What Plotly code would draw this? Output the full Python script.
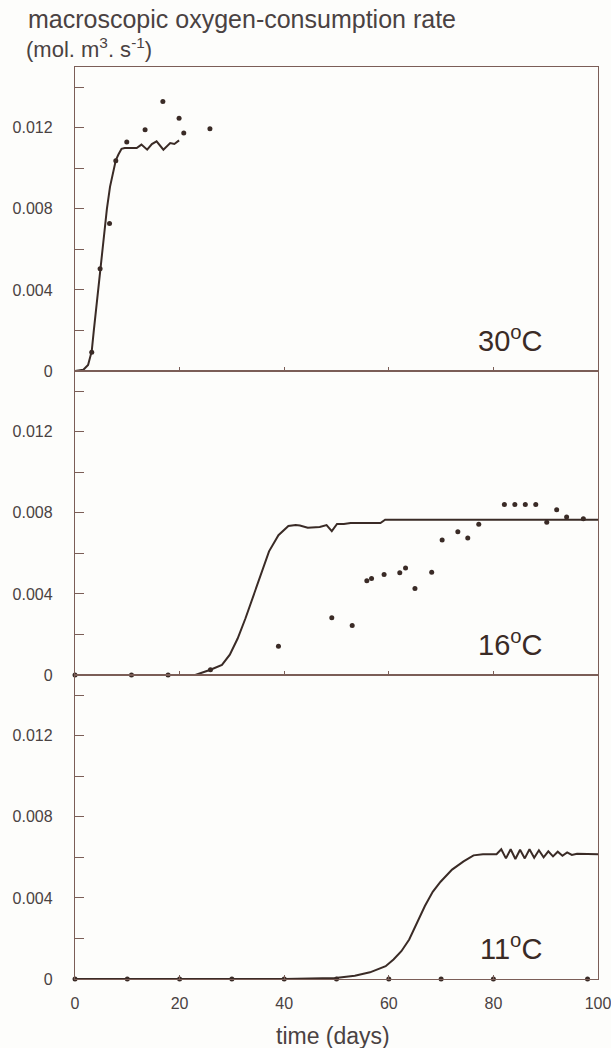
import plotly.graph_objects as go

# ---------------- data ----------------
# 30 °C panel
t30_model = [0, 1.0, 1.6, 2.5, 3.2, 3.6, 4.1, 4.6, 5.1, 5.6, 6.1, 6.7, 7.3, 7.8, 8.3, 8.9,
             9.5, 10.5, 11.8, 12.7, 13.8, 14.7, 15.6, 16.9, 18.2, 19.0, 19.9]
r30_model = [0, 0.00002, 0.00006, 0.0003, 0.00098, 0.0020, 0.00325, 0.0045, 0.0057, 0.0069,
             0.0080, 0.0091, 0.0099, 0.0104, 0.01068, 0.01096, 0.0110, 0.0110, 0.0110,
             0.01117, 0.01092, 0.0112, 0.01133, 0.01092, 0.01125, 0.0112, 0.01138]
t30_obs = [3.2, 4.8, 6.6, 7.8, 9.9, 13.4, 16.8, 19.9, 20.8, 25.8]
r30_obs = [0.00093, 0.00504, 0.00728, 0.01038, 0.0113, 0.0119, 0.0133, 0.01247, 0.01174, 0.01195]

# 16 °C panel
t16_model = [0, 10, 20, 23, 25.9, 28.1, 29.6, 31.1, 32.6, 34.1, 35.6, 37.1, 38.9, 40.8, 42.2,
             43.0, 44.5, 46.8, 48.1, 49.1, 50.1, 51.4, 52.7, 58.4, 59.3, 68, 77.7, 100]
r16_model = [0, 0, 0, 0, 0.00026, 0.0005, 0.0010, 0.0018, 0.0028, 0.0039, 0.0051, 0.0061,
             0.0069, 0.00735, 0.0074, 0.00738, 0.00727, 0.0073, 0.0074, 0.0071, 0.00745,
             0.00745, 0.0075, 0.0075, 0.00766, 0.00766, 0.00766, 0.00766]
t16_obs = [0, 10.8, 17.8, 25.9, 38.9, 49.1, 53.0, 55.8, 56.7, 59.1, 62.1, 63.2, 65.0, 68.2,
           70.2, 73.2, 75.1, 77.2, 82.1, 84.1, 86.1, 88.1, 90.2, 92.1, 94.0, 97.2]
r16_obs = [0, 0, 0, 0.00026, 0.00142, 0.00283, 0.00244, 0.00465, 0.00476, 0.00496, 0.00504,
           0.00528, 0.00427, 0.00507, 0.00666, 0.00707, 0.00676, 0.00744, 0.00841, 0.00841,
           0.00841, 0.00841, 0.00754, 0.00815, 0.00779, 0.00771]

# 11 °C panel
t11_model = [0, 10, 20, 30, 40, 49.8, 53.5, 56.4, 59.4, 60.9, 62.4, 63.9, 65.4, 66.9, 68.4,
             69.9, 72.1, 74.3, 76.2, 78.0, 80.6, 81.5, 82.4, 83.3, 84.2, 85.1, 86.0, 86.9,
             87.8, 88.7, 89.6, 90.5, 91.4, 92.3, 93.2, 94.1, 95.0, 96.0, 100]
r11_model = [0, 0, 0, 0, 0, 0.00005, 0.00016, 0.00033, 0.00063, 0.00096, 0.00137, 0.00195,
             0.0028, 0.0036, 0.0043, 0.0048, 0.0054, 0.0058, 0.0061, 0.00615, 0.00616,
             0.00640, 0.00595, 0.00640, 0.00592, 0.00638, 0.00595, 0.00640, 0.00598,
             0.00635, 0.00600, 0.00630, 0.00605, 0.00628, 0.00608, 0.00625, 0.00612,
             0.00618, 0.00616]
t11_obs = [0, 10, 20, 30, 40, 50, 60, 70, 80, 98]
r11_obs = [0, 0, 0, 0, 0, 0, 0, 0, 0, 0]

temps = ["30", "16", "11"]
y_tickvals = [0, 0.004, 0.008, 0.012]
y_ticktext = ["0", "0.004", "0.008", "0.012"]
x_tickvals = [0, 20, 40, 60, 80, 100]
x_ticktext = ["0", "20", "40", "60", "80", "100"]

# ---------------- styles ----------------
INK = "#3a2b26"
AXIS = "#7b5e57"
TXT = "#4a4242"
FONT = "Liberation Sans"

fig = go.Figure()
panels = [(t30_model, r30_model, t30_obs, r30_obs),
          (t16_model, r16_model, t16_obs, r16_obs),
          (t11_model, r11_model, t11_obs, r11_obs)]
domains = [[2 / 3, 1.0], [1 / 3, 2 / 3], [0.0, 1 / 3]]

for i, (tm, rm, to, ro) in enumerate(panels):
    n = "" if i == 0 else str(i + 1)
    fig.add_trace(go.Scatter(x=tm, y=rm, mode="lines", line=dict(color=INK, width=2),
                             xaxis="x" + n, yaxis="y" + n, showlegend=False, cliponaxis=False))
    fig.add_trace(go.Scatter(x=to, y=ro, mode="markers", marker=dict(color=INK, size=5),
                             xaxis="x" + n, yaxis="y" + n, showlegend=False, cliponaxis=False))
    xa = dict(domain=[0, 1], range=[0, 100], anchor="y" + n, showline=True, linecolor=AXIS,
              linewidth=1.3, mirror=True, ticks="inside", ticklen=4, tickcolor=AXIS,
              tickvals=x_tickvals, ticktext=x_ticktext, showticklabels=(i == 2),
              tickfont=dict(family=FONT, size=16, color=TXT), ticklabelstandoff=10,
              ticklabeloverflow="allow", automargin=False, showgrid=False, zeroline=False)
    ya = dict(domain=domains[i], range=[0, 0.015], anchor="x" + n, showline=True,
              linecolor=AXIS, linewidth=1.3, mirror=True, ticks="inside", ticklen=9,
              tickcolor=AXIS, tickvals=y_tickvals, ticktext=y_ticktext,
              minor=dict(dtick=0.002, tick0=0, ticks="inside", ticklen=9, tickcolor=AXIS,
                         showgrid=False),
              tickfont=dict(family=FONT, size=16, color=TXT), ticklabelstandoff=18,
              automargin=False, showgrid=False, zeroline=False)
    if i > 0:
        xa["matches"] = "x"
    fig.layout["xaxis" + n] = xa
    fig.layout["yaxis" + n] = ya
    # temperature label
    fig.add_annotation(x=83.3, y=0.0016, xref="x" + n, yref="y" + n,
                       text=temps[i] + "<sup>o</sup>C",
                       showarrow=False, xanchor="center", yanchor="middle",
                       font=dict(family=FONT, size=29, color=INK))

fig.add_annotation(x=-0.094, y=1.053, xref="paper", yref="paper",
                   text="macroscopic oxygen-consumption rate", showarrow=False,
                   xanchor="left", yanchor="middle", font=dict(family=FONT, size=25, color=TXT))
fig.add_annotation(x=-0.098, y=1.021, xref="paper", yref="paper",
                   text="(mol. m<sup>3</sup>. s<sup>-1</sup>)", showarrow=False,
                   xanchor="left", yanchor="middle", font=dict(family=FONT, size=22, color=TXT))
fig.add_annotation(x=0.493, y=-0.062, xref="paper", yref="paper", text="time (days)",
                   showarrow=False, xanchor="center", yanchor="middle",
                   font=dict(family=FONT, size=23, color=TXT))

fig.update_layout(width=611, height=1048, margin=dict(l=75, r=13, t=67, b=69),
                  paper_bgcolor="#fdfdfb", plot_bgcolor="#fdfdfb", showlegend=False)

fig.write_html("out.html")
